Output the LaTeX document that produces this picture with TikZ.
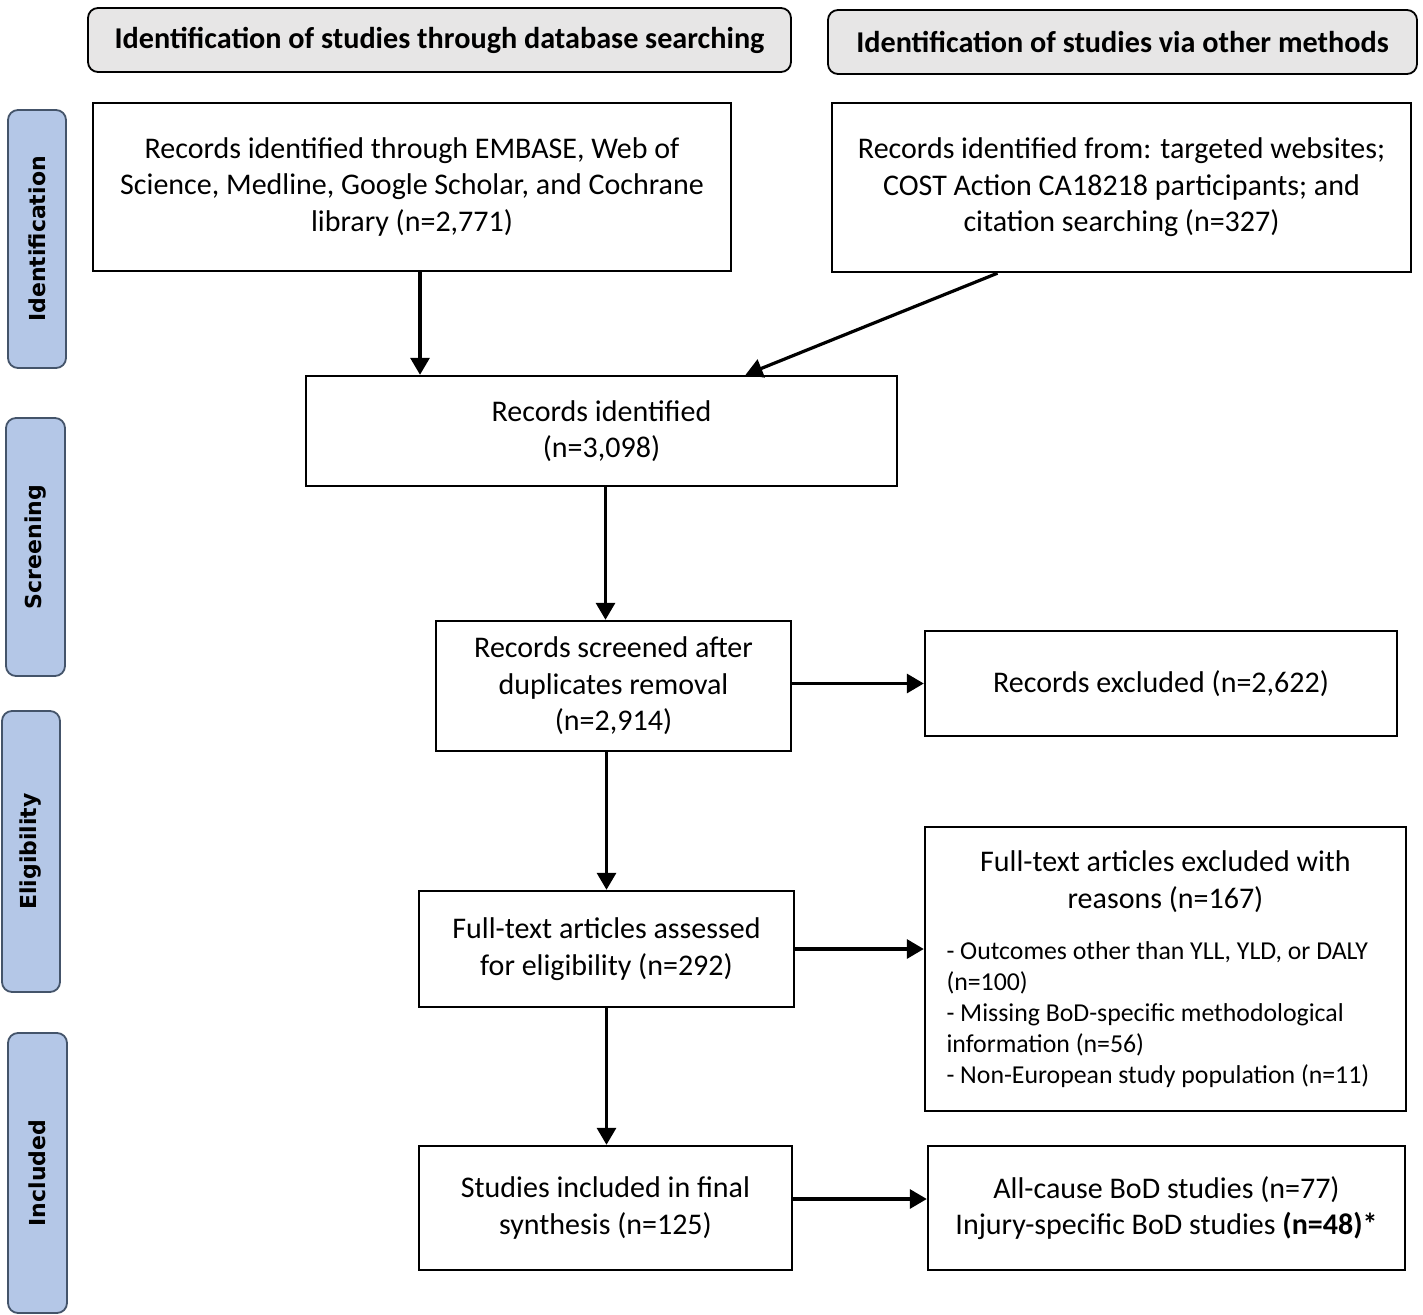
\documentclass[tikz,border=0pt]{standalone}
\usepackage{fontspec}
\setmainfont{Carlito}
\newfontfamily\sidefont{DejaVu Sans}
\usetikzlibrary{arrows.meta}
\definecolor{headgray}{HTML}{E7E6E6}
\definecolor{sideblue}{HTML}{B4C7E7}
\definecolor{sideline}{HTML}{44546A}
\tikzset{
  box/.style={draw, line width=1.2pt, align=center, inner sep=0pt,
    font=\fontsize{15}{18.3}\selectfont},
  head/.style={draw, line width=0.9pt, rounded corners=5pt, fill=headgray,
    align=center, inner sep=0pt, font=\fontsize{15.1}{18}\selectfont\bfseries},
  phase/.style={draw=sideline, line width=0.9pt, rounded corners=5pt, fill=sideblue,
    rotate=90, inner sep=0pt, font=\sidefont\fontsize{11}{13}\selectfont\bfseries},
  arr/.style={line width=1.6pt, -{Triangle[length=8.5pt,width=9.5pt]}}
}
\begin{document}
\begin{tikzpicture}[x=0.5pt, y=-0.5pt]
	\useasboundingbox (0,0) rectangle (1423,1315);
	% column headers
	\node[head, minimum width=351.5pt, minimum height=32pt] (hdb) at (439.5,40) {Identification of studies through database searching};
	\node[head, minimum width=294.5pt, minimum height=32pt] (hoth) at (1122.5,42) {Identification of studies via other methods};
	% phase labels
	\node[phase, minimum width=129pt, minimum height=29pt] (pid) at (37,239) {Identification};
	\node[phase, minimum width=129pt, minimum height=29.5pt] (pscr) at (35.5,547) {Screening};
	\node[phase, minimum width=140.5pt, minimum height=29pt] (pelig) at (31,851.5) {Eligibility};
	\node[phase, minimum width=140pt, minimum height=29.5pt] (pinc) at (37.5,1173) {Included};
	% boxes
	\node[box, minimum width=319pt, minimum height=84pt] (dbrec) at (412,187) {Records identified through EMBASE, Web of\\Science, Medline, Google Scholar, and Cochrane\\library (n=2,771)};
	\node[box, minimum width=289.5pt, minimum height=84.5pt] (othrec) at (1121.5,187.5) {Records identified from: targeted websites;\\COST Action CA18218 participants; and\\citation searching (n=327)};
	\node[box, minimum width=295.5pt, minimum height=55pt] (allrec) at (601.5,431) {Records identified\\(n=3,098)};
	\node[box, minimum width=177.5pt, minimum height=65pt] (screen) at (613.5,686) {Records screened after\\duplicates removal\\(n=2,914)};
	\node[box, minimum width=236pt, minimum height=52.5pt] (excl) at (1161,683.5) {Records excluded (n=2,622)};
	\node[box, minimum width=187.5pt, minimum height=58pt] (full) at (606.5,949) {Full-text articles assessed\\for eligibility (n=292)};
	\node[box, minimum width=240.5pt, minimum height=142pt] (fullex) at (1165.5,969) {\begin{minipage}{219pt}
		\centering Full-text articles excluded with\\reasons (n=167)\par\vspace{10pt}
		\raggedright\fontsize{12.9}{15.5}\selectfont
		- Outcomes other than YLL, YLD, or DALY\\(n=100)\\- Missing BoD-specific methodological\\information (n=56)\\- Non-European study population (n=11)\par
		\end{minipage}};
	\node[box, minimum width=186.5pt, minimum height=62pt] (incl) at (605.5,1208) {Studies included in final\\synthesis (n=125)};
	\node[box, minimum width=238.5pt, minimum height=62pt] (split) at (1166.5,1208) {All-cause BoD studies (n=77)\\Injury-specific BoD studies \textbf{(n=48)*}};
	% connectors
	\draw[arr] ([xshift=4pt]dbrec.south) -- ([xshift=4pt]dbrec.south |- allrec.north);
	\draw[arr] ([xshift=-62pt]othrec.south) -- ([xshift=72pt]allrec.north);
	\draw[arr] ([xshift=2pt]allrec.south) -- ([xshift=2pt]allrec.south |- screen.north);
	\draw[arr] (screen.east |- excl.west) -- (excl.west);
	\draw[arr] (screen.south -| full.north) -- (full.north);
	\draw[arr] (full.east) -- (full.east -| fullex.west);
	\draw[arr] (full.south) -- (full.south |- incl.north);
	\draw[arr] ([yshift=4.5pt]incl.east) -- ([yshift=4.5pt]incl.east -| split.west);
\end{tikzpicture}
\end{document}
